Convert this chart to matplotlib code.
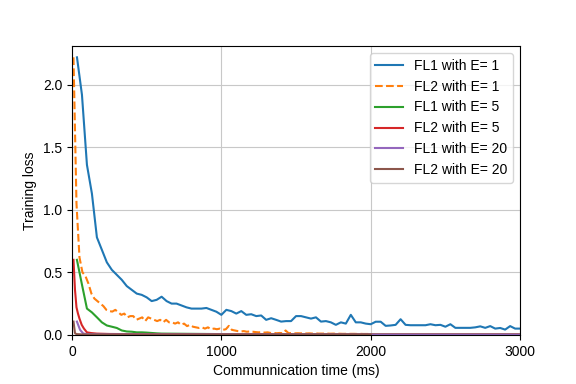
import numpy as np
import matplotlib
matplotlib.use('Agg')
import matplotlib.pyplot as plt

plt.rcParams['font.family'] = ['Liberation Sans', 'DejaVu Sans']
plt.rcParams['font.size'] = 10

# FL1 with E=1 : one point every ~33 ms
fl1_e1_t = np.arange(1, 91) * 33.33
fl1_e1 = [2.22, 1.92, 1.36, 1.13, 0.78, 0.68, 0.58, 0.52, 0.48, 0.44,
          0.39, 0.36, 0.33, 0.32, 0.30, 0.27, 0.28, 0.305, 0.27, 0.25,
          0.25, 0.235, 0.22, 0.21, 0.21, 0.21, 0.215, 0.20, 0.185, 0.16,
          0.20, 0.19, 0.17, 0.19, 0.16, 0.165, 0.15, 0.155, 0.12, 0.133,
          0.12, 0.106, 0.11, 0.11, 0.15, 0.15, 0.14, 0.13, 0.14, 0.106,
          0.11, 0.10, 0.08, 0.10, 0.09, 0.16, 0.10, 0.10, 0.09, 0.085,
          0.105, 0.105, 0.072, 0.075, 0.08, 0.125, 0.08, 0.077, 0.077, 0.077,
          0.077, 0.085, 0.077, 0.08, 0.065, 0.085, 0.056, 0.056, 0.056, 0.056,
          0.06, 0.068, 0.056, 0.07, 0.05, 0.055, 0.042, 0.07, 0.05, 0.05]

# FL2 with E=1 : one point every 20 ms up to 2000 ms
fl2_e1_t = np.arange(10, 2000, 20)
fl2_e1 = [2.22, 1.05, 0.62, 0.50, 0.47, 0.41, 0.33, 0.29, 0.27, 0.25,
          0.23, 0.20, 0.19, 0.186, 0.20, 0.18, 0.16, 0.17, 0.14, 0.15,
          0.15, 0.12, 0.13, 0.14, 0.11, 0.14, 0.13, 0.12, 0.11, 0.12,
          0.10, 0.12, 0.10, 0.10, 0.09, 0.10, 0.08, 0.09, 0.07, 0.08,
          0.065, 0.06, 0.055, 0.06, 0.05, 0.06, 0.045, 0.05, 0.045, 0.05,
          0.04, 0.045, 0.072, 0.04, 0.035, 0.03, 0.027, 0.03, 0.025, 0.027,
          0.025, 0.022, 0.02, 0.022, 0.018, 0.02, 0.015, 0.015, 0.013, 0.015,
          0.013, 0.035, 0.013, 0.015, 0.012, 0.013, 0.012, 0.012, 0.011, 0.012,
          0.01, 0.012, 0.01, 0.01, 0.01, 0.01, 0.009, 0.01, 0.008, 0.009,
          0.008, 0.008, 0.008, 0.008, 0.008, 0.007, 0.008, 0.007, 0.007, 0.007]

fl1_e5_t = [33, 67, 100, 133, 167, 200, 233, 267, 300, 333, 367, 400, 433, 467,
            500, 533, 567, 600, 800, 1000, 1500, 2000, 2500, 3000]
fl1_e5 = [0.60, 0.40, 0.21, 0.18, 0.14, 0.10, 0.075, 0.065, 0.055, 0.035, 0.027,
          0.025, 0.02, 0.02, 0.018, 0.015, 0.012, 0.01, 0.008, 0.006, 0.005,
          0.004, 0.004, 0.004]

fl2_e5_t = [10, 20, 30, 40, 50, 65, 80, 100, 130, 165, 250, 500, 1000, 2000, 3000]
fl2_e5 = [0.60, 0.36, 0.22, 0.17, 0.13, 0.08, 0.05, 0.02, 0.014, 0.01, 0.007,
          0.005, 0.004, 0.003, 0.003]

fl1_e20_t = [33, 54, 76, 100, 200, 500, 1000, 2000, 3000]
fl1_e20 = [0.106, 0.04, 0.01, 0.006, 0.004, 0.003, 0.003, 0.002, 0.002]

fl2_e20_t = [10, 20, 30, 60, 100, 500, 1000, 2000]
fl2_e20 = [0.106, 0.013, 0.006, 0.004, 0.003, 0.002, 0.002, 0.002]

fig = plt.figure(figsize=(5.76, 3.84), dpi=100)
ax = fig.add_axes([0.125, 0.128, 0.778, 0.752])

ax.plot(fl1_e1_t, fl1_e1, color='#1f77b4', label='FL1 with E= 1')
ax.plot(fl2_e1_t, fl2_e1, color='#ff7f0e', linestyle='--', label='FL2 with E= 1')
ax.plot(fl1_e5_t, fl1_e5, color='#2ca02c', label='FL1 with E= 5')
ax.plot(fl2_e5_t, fl2_e5, color='#d62728', label='FL2 with E= 5')
ax.plot(fl1_e20_t, fl1_e20, color='#9467bd', label='FL1 with E= 20')
ax.plot(fl2_e20_t, fl2_e20, color='#8c564b', label='FL2 with E= 20')

ax.set_xlim(0, 3000)
ax.set_ylim(0, 2.31)
ax.set_xticks([0, 1000, 2000, 3000])
ax.set_yticks([0.0, 0.5, 1.0, 1.5, 2.0])
ax.grid(True, color='#c8c8c8')
ax.set_xlabel('Communnication time (ms)')
ax.set_ylabel('Training loss')
ax.legend(loc='upper right')

fig.savefig('out.png', dpi=100)
